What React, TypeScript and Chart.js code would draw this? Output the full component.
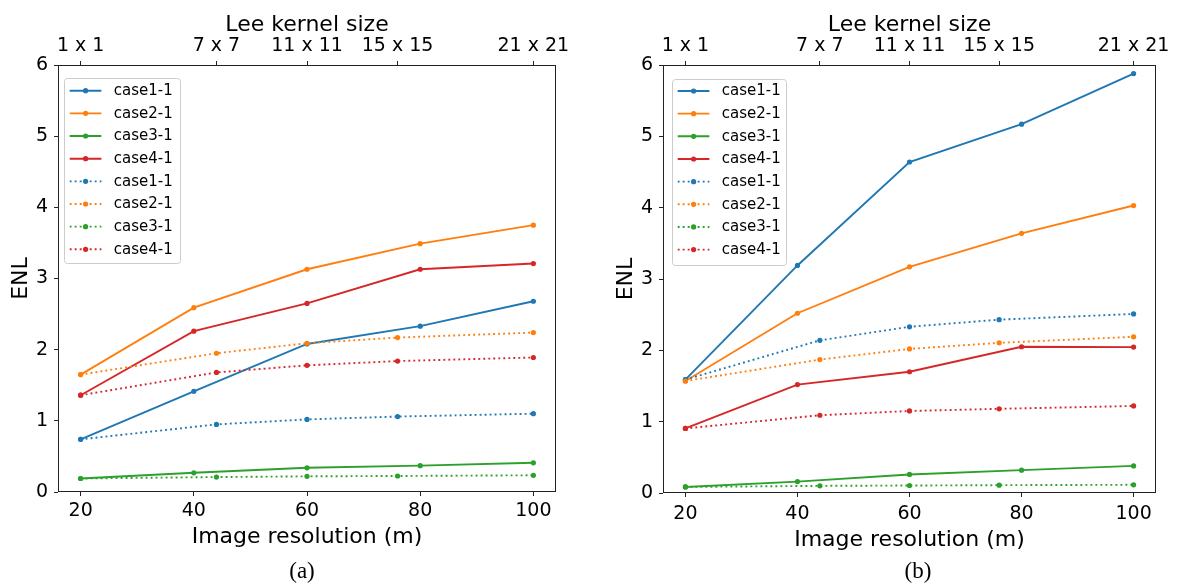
import React, { useEffect, useRef } from 'react';
import { Chart, registerables } from 'chart.js';

Chart.register(...registerables);

// ---------- data ----------
const resolution = [20, 40, 60, 80, 100];
const kernelLabels = ['1 x 1', '7 x 7', '11 x 11', '15 x 15', '21 x 21'];
const kernelPositions = [20, 44, 60, 76, 100];
const yTickValues = [0, 1, 2, 3, 4, 5, 6];
const caseNames = ['case1-1', 'case2-1', 'case3-1', 'case4-1'];

// panel (a)
const aSolidCase1 = [0.74, 1.415, 2.08, 2.33, 2.68];
const aSolidCase2 = [1.65, 2.59, 3.13, 3.49, 3.75];
const aSolidCase3 = [0.19, 0.27, 0.34, 0.37, 0.41];
const aSolidCase4 = [1.36, 2.26, 2.65, 3.13, 3.21];
const aDottedCase1 = [0.74, 0.95, 1.02, 1.06, 1.1];
const aDottedCase2 = [1.65, 1.95, 2.09, 2.17, 2.24];
const aDottedCase3 = [0.19, 0.21, 0.22, 0.225, 0.235];
const aDottedCase4 = [1.36, 1.68, 1.78, 1.84, 1.89];

// panel (b)
const bSolidCase1 = [1.59, 3.19, 4.64, 5.17, 5.88];
const bSolidCase2 = [1.57, 2.52, 3.17, 3.64, 4.03];
const bSolidCase3 = [0.085, 0.16, 0.26, 0.32, 0.38];
const bSolidCase4 = [0.905, 1.52, 1.7, 2.05, 2.045];
const bDottedCase1 = [1.59, 2.14, 2.33, 2.43, 2.51];
const bDottedCase2 = [1.57, 1.87, 2.02, 2.105, 2.19];
const bDottedCase3 = [0.085, 0.1, 0.105, 0.11, 0.115];
const bDottedCase4 = [0.905, 1.09, 1.15, 1.18, 1.22];

// ---------- styles ----------
const COLORS = ['#1f77b4', '#ff7f0e', '#2ca02c', '#d62728'];
const FONT = '"DejaVu Sans", sans-serif';
const CANVAS_W = 590;
const CANVAS_H = 587;

type Area = { l: number; t: number; r: number; b: number };
type PanelSpec = {
  pageLeft: number;
  area: Area;
  legend: { x: number; y: number; w: number; h: number; firstRow: number; gap: number };
  yTitlePad: number;
  xTitlePad: number;
  xTickPad: number;
  caption: string;
  captionX: number;
  solid: number[][];
  dotted: number[][];
};

const frameAndLegend = {
  id: 'frameAndLegend',
  afterDatasetsDraw(chart: any, _args: any, opts: any) {
    const ctx = chart.ctx as CanvasRenderingContext2D;
    const ca = chart.chartArea;
    ctx.save();
    ctx.strokeStyle = '#222';
    ctx.lineWidth = 1;
    ctx.setLineDash([]);
    ctx.strokeRect(Math.round(ca.left) + 0.5, Math.round(ca.top) + 0.5,
      Math.round(ca.right) - Math.round(ca.left) - 1, Math.round(ca.bottom) - Math.round(ca.top) - 1);

    const L = opts.box;
    if (L) {
      ctx.beginPath();
      if ((ctx as any).roundRect) (ctx as any).roundRect(L.x + 0.5, L.y + 0.5, L.w, L.h, 3);
      else ctx.rect(L.x + 0.5, L.y + 0.5, L.w, L.h);
      ctx.fillStyle = 'rgba(255,255,255,0.8)';
      ctx.fill();
      ctx.strokeStyle = '#cccccc';
      ctx.lineWidth = 1;
      ctx.stroke();
      chart.data.datasets.forEach((ds: any, i: number) => {
        const cy = L.firstRow + i * L.gap;
        ctx.strokeStyle = ds.borderColor;
        ctx.lineWidth = ds.borderWidth;
        ctx.lineCap = 'butt';
        ctx.setLineDash(ds.borderDash || []);
        ctx.beginPath();
        ctx.moveTo(L.x + 5.7, cy);
        ctx.lineTo(L.x + 37.4, cy);
        ctx.stroke();
        ctx.setLineDash([]);
        ctx.beginPath();
        ctx.arc(L.x + 21.6, cy, 2.6, 0, Math.PI * 2);
        ctx.fillStyle = ds.borderColor;
        ctx.fill();
        ctx.fillStyle = '#000';
        ctx.font = `15px ${FONT}`;
        ctx.textBaseline = 'middle';
        ctx.textAlign = 'left';
        ctx.fillText(ds.label, L.x + 49.7, cy + 0.5);
      });
    }
    ctx.restore();
  },
};

function Panel({ spec }: { spec: PanelSpec }) {
  const ref = useRef<HTMLCanvasElement>(null);
  useEffect(() => {
    if (!ref.current) return;
    const { area } = spec;
    const datasets: any[] = [];
    spec.solid.forEach((vals, i) => {
      datasets.push({
        label: caseNames[i],
        data: resolution.map((x, j) => ({ x, y: vals[j] })),
        borderColor: COLORS[i],
        backgroundColor: COLORS[i],
        borderWidth: 1.9,
        pointRadius: 2.6,
        pointBorderWidth: 0,
        pointBackgroundColor: COLORS[i],
        borderDash: [],
      });
    });
    spec.dotted.forEach((vals, i) => {
      datasets.push({
        label: caseNames[i],
        data: kernelPositions.map((x, j) => ({ x, y: vals[j] })),
        borderColor: COLORS[i],
        backgroundColor: COLORS[i],
        borderWidth: 1.9,
        pointRadius: 2.6,
        pointBorderWidth: 0,
        pointBackgroundColor: COLORS[i],
        borderDash: [1.9, 3.1],
        borderCapStyle: 'butt',
      });
    });
    datasets.forEach((d, i) => { d.order = datasets.length - 1 - i; });

    const tickFont = { family: FONT, size: 19 };
    const titleFont = { family: FONT, size: 22 };
    const grid = { drawOnChartArea: false, drawTicks: true, tickLength: 4, color: '#222', lineWidth: 1 };

    const chart = new Chart(ref.current, {
      type: 'line',
      data: { datasets },
      options: {
        animation: false,
        responsive: false,
        devicePixelRatio: 1,
        layout: { padding: { left: 0, top: 0, right: CANVAS_W - area.r, bottom: 0 } },
        plugins: {
          legend: { display: false },
          tooltip: { enabled: false },
          frameAndLegend: { box: spec.legend },
        } as any,
        scales: {
          x: {
            type: 'linear',
            position: 'bottom',
            min: 16,
            max: 104,
            afterBuildTicks: (s: any) => { s.ticks = resolution.map((v) => ({ value: v })); },
            afterFit: (s: any) => { s.height = CANVAS_H - area.b; },
            ticks: { font: tickFont, color: '#000', padding: spec.xTickPad, maxRotation: 0, autoSkip: false },
            grid,
            border: { display: false },
            title: { display: true, text: 'Image resolution (m)', font: titleFont, color: '#000', padding: { top: 0, bottom: spec.xTitlePad } },
          },
          x2: {
            type: 'linear',
            position: 'top',
            min: 16,
            max: 104,
            afterBuildTicks: (s: any) => { s.ticks = kernelPositions.map((v) => ({ value: v })); },
            afterFit: (s: any) => { s.height = area.t; },
            ticks: {
              font: tickFont, color: '#000', padding: 3.5, maxRotation: 0, autoSkip: false,
              callback: (v: any) => kernelLabels[kernelPositions.indexOf(Number(v))],
            },
            grid,
            border: { display: false },
            title: { display: true, text: 'Lee kernel size', font: titleFont, color: '#000', padding: { top: 11.6, bottom: 0 } },
          },
          y: {
            type: 'linear',
            position: 'left',
            min: 0,
            max: 6,
            afterBuildTicks: (s: any) => { s.ticks = yTickValues.map((v) => ({ value: v })); },
            afterFit: (s: any) => { s.width = area.l; },
            ticks: { font: tickFont, color: '#000', padding: 6 },
            grid,
            border: { display: false },
            title: { display: true, text: 'ENL', font: titleFont, color: '#000', padding: { top: spec.yTitlePad, bottom: 0 } },
          },
        } as any,
      },
      plugins: [frameAndLegend],
    });
    return () => chart.destroy();
  }, [spec]);

  return (
    <div style={{ position: 'absolute', left: spec.pageLeft, top: 0, width: CANVAS_W, height: CANVAS_H }}>
      <canvas ref={ref} width={CANVAS_W} height={CANVAS_H} style={{ width: CANVAS_W, height: CANVAS_H, display: 'block' }} />
      <div style={{
        position: 'absolute', left: spec.captionX - 50, top: 559, width: 100, height: 24,
        textAlign: 'center', fontFamily: '"Liberation Serif", serif', fontSize: 23, lineHeight: '24px', color: '#000',
      }}>{spec.caption}</div>
    </div>
  );
}

const panelA: PanelSpec = {
  pageLeft: 0,
  area: { l: 58, t: 65, r: 556, b: 492 },
  legend: { x: 64, y: 78, w: 116, h: 185, firstRow: 90.7, gap: 22.66 },
  yTitlePad: 8,
  xTitlePad: 36.3,
  xTickPad: 3.9,
  caption: '(a)',
  captionX: 302,
  solid: [aSolidCase1, aSolidCase2, aSolidCase3, aSolidCase4],
  dotted: [aDottedCase1, aDottedCase2, aDottedCase3, aDottedCase4],
};

const panelB: PanelSpec = {
  pageLeft: 590,
  area: { l: 73, t: 65, r: 566, b: 493 },
  legend: { x: 82, y: 79, w: 114, h: 186, firstRow: 91, gap: 22.66 },
  yTitlePad: 23,
  xTitlePad: 34,
  xTickPad: 5.4,
  caption: '(b)',
  captionX: 328,
  solid: [bSolidCase1, bSolidCase2, bSolidCase3, bSolidCase4],
  dotted: [bDottedCase1, bDottedCase2, bDottedCase3, bDottedCase4],
};

export default function App() {
  return (
    <div style={{ position: 'absolute', left: 0, top: 0, width: 1180, height: 587, background: '#fff', overflow: 'hidden' }}>
      <Panel spec={panelA} />
      <Panel spec={panelB} />
    </div>
  );
}
